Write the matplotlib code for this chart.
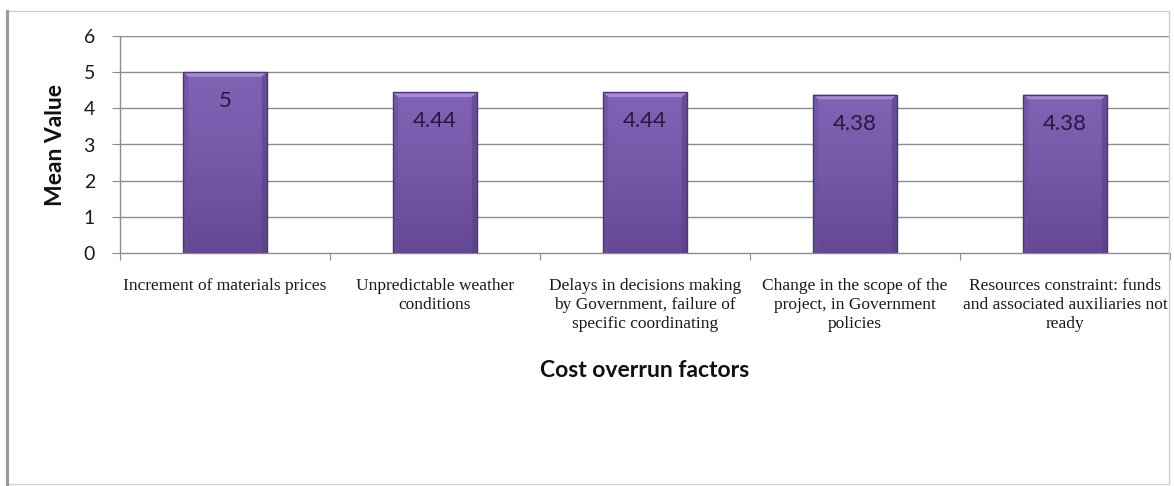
import numpy as np
import matplotlib
matplotlib.use("Agg")
import matplotlib.pyplot as plt
from matplotlib.patches import Rectangle, Polygon
from matplotlib.lines import Line2D
from matplotlib.colors import LinearSegmentedColormap

# Data
factors = [
    "Increment of materials prices",
    "Unpredictable weather\nconditions",
    "Delays in decisions making\nby Government, failure of\nspecific coordinating",
    "Change in the scope of the\nproject, in Government\npolicies",
    "Resources constraint: funds\nand associated auxiliaries not\nready",
]
mean_values = [5, 4.44, 4.44, 4.38, 4.38]
value_labels = ["5", "4.44", "4.44", "4.38", "4.38"]
y_ticks = [0, 1, 2, 3, 4, 5, 6]

W, H = 1174, 486
fig = plt.figure(figsize=(W / 100, H / 100), dpi=100)
fig.patch.set_facecolor("white")

# Chart frame
fig.add_artist(Rectangle((7 / W, 2 / H), (1169 - 7) / W, (475 - 2) / H,
                         transform=fig.transFigure, fill=False,
                         edgecolor="#d0d0d0", lw=1.0))
fig.add_artist(Line2D([7 / W, 7 / W], [2 / H, 475 / H], transform=fig.transFigure,
                      color="#9a9a9a", lw=2.2))

ax = fig.add_axes([120 / W, 1 - 253 / H, (1170 - 120) / W, (253 - 36) / H])
ax.set_xlim(0, len(factors))
ax.set_ylim(0, 6)

grid_color = "#8c8c8c"
for v in y_ticks[1:]:
    ax.axhline(v, color=grid_color, lw=1.0, zorder=0)

x = np.arange(len(factors)) + 0.5
bars = ax.bar(x, mean_values, width=0.4, color="none", edgecolor="none", zorder=2)

cmap = LinearSegmentedColormap.from_list("bar", ["#654894", "#7657a8", "#8262b4"])
grad = np.linspace(0, 1, 256).reshape(-1, 1)
for b, lab in zip(bars, value_labels):
    x0, w, h = b.get_x(), b.get_width(), b.get_height()
    im = ax.imshow(grad, cmap=cmap, origin="lower", aspect="auto",
                   extent=(x0, x0 + w, 0, h), zorder=2)
    clip = Rectangle((x0, 0), w, h, transform=ax.transData)
    im.set_clip_path(clip)
    # bevelled top edge
    dx, dy = 0.025, 0.13
    ax.add_patch(Polygon([(x0, h), (x0 + w, h), (x0 + w - dx, h - dy), (x0 + dx, h - dy)],
                         closed=True, facecolor="#a589d4", edgecolor="none", zorder=3))
    ax.add_patch(Polygon([(x0, 0), (x0, h), (x0 + dx, h - dy), (x0 + dx, 0)],
                         closed=True, facecolor="#6d509c", edgecolor="none", alpha=0.6, zorder=3))
    ax.add_patch(Polygon([(x0 + w, 0), (x0 + w, h), (x0 + w - dx, h - dy), (x0 + w - dx, 0)],
                         closed=True, facecolor="#5a4085", edgecolor="none", alpha=0.6, zorder=3))
    ax.add_patch(Rectangle((x0, 0), w, h, fill=False, edgecolor="#4b3673", lw=1.0, zorder=4))
    ax.text(x0 + w / 2, h - 0.8, lab, ha="center", va="center", fontsize=16,
            family="Lato", color="#241a40", zorder=5)

# Axes styling
for s in ["top", "right"]:
    ax.spines[s].set_visible(False)
for s in ["left", "bottom"]:
    ax.spines[s].set_color(grid_color)
    ax.spines[s].set_linewidth(1.0)

ax.set_yticks(y_ticks)
ax.set_yticklabels([str(t) for t in y_ticks], family="Lato", fontsize=14, color="#1a1a1a")
ax.tick_params(axis="y", direction="out", length=6, color=grid_color, pad=12)

ax.set_xticks(np.arange(len(factors) + 1))
ax.set_xticklabels([])
ax.tick_params(axis="x", direction="out", length=5, color=grid_color)
ax.set_xticks(x, minor=True)
ax.set_xticklabels(factors, minor=True, family="Liberation Serif", fontsize=12.5,
                   color="#1a1a1a", linespacing=1.25, va="top")
ax.tick_params(axis="x", which="minor", length=0, pad=18)

ax.set_ylabel("Mean Value", family="Lato", fontsize=16.5, fontweight="bold",
              color="#111111", labelpad=13)
ax.set_xlabel("Cost overrun factors", family="Lato", fontsize=16.5, fontweight="bold",
              color="#111111", labelpad=20)

fig.savefig("out.png", dpi=100, facecolor="white")
